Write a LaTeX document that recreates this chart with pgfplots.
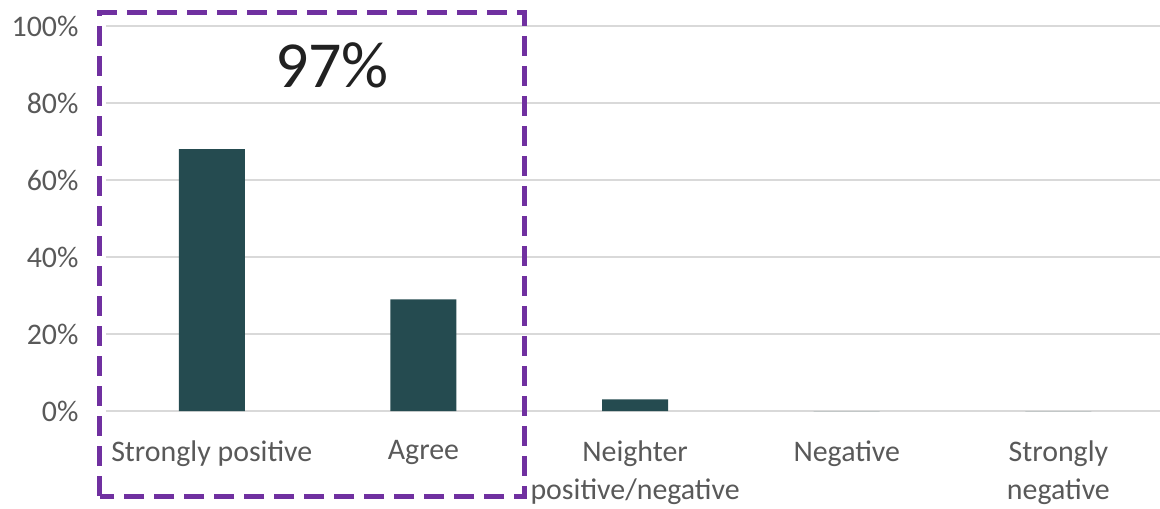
\documentclass[border=0pt]{standalone}
\usepackage{fontspec}
\setmainfont{Carlito}
\usepackage{pgfplots}
\pgfplotsset{compat=1.18}
\definecolor{barc}{RGB}{37,75,80}
\definecolor{txt}{RGB}{89,89,89}
\definecolor{gridc}{RGB}{217,217,217}
\definecolor{purp}{RGB}{112,48,160}
\begin{document}
\begin{tikzpicture}
\begin{axis}[name=ax, scale only axis, width=1054bp, height=385bp,
  xmin=-0.5, xmax=4.48, ymin=0, ymax=100,
  axis line style={draw=none}, major tick length=0pt,
  ymajorgrids, grid style={gridc, line width=1.5bp},
  xtick={0,...,4},
  xticklabels={Strongly positive, Agree, {Neighter\\positive/negative}, Negative, {Strongly\\negative}},
  ytick={0,20,...,100},
  yticklabels={0\%,20\%,40\%,60\%,80\%,100\%},
  ticklabel style={font=\fontsize{30}{38}\selectfont, text=txt},
  xticklabel style={align=center, yshift=-26bp},
  yticklabel style={xshift=-24bp},
  ybar, bar width=66bp,
  clip=false,
]
\addplot[fill=barc, draw=none] coordinates {(0,68) (1,29) (2,3) (3,0) (4,0)};
\end{axis}
\draw[purp, line width=5bp, dash pattern=on 20bp off 10bp] ([shift={(-6bp,-85bp)}]ax.south west) rectangle ([shift={(418bp,398bp)}]ax.south west);
\node[font=\fontsize{66}{70}\selectfont, text=black!87] at ([shift={(226bp,346bp)}]ax.south west) {97\%};
\pgfresetboundingbox
\path[use as bounding box] ([shift={(-106bp,-98bp)}]ax.south west) rectangle ++(1160bp,509bp);
\end{tikzpicture}
\end{document}
